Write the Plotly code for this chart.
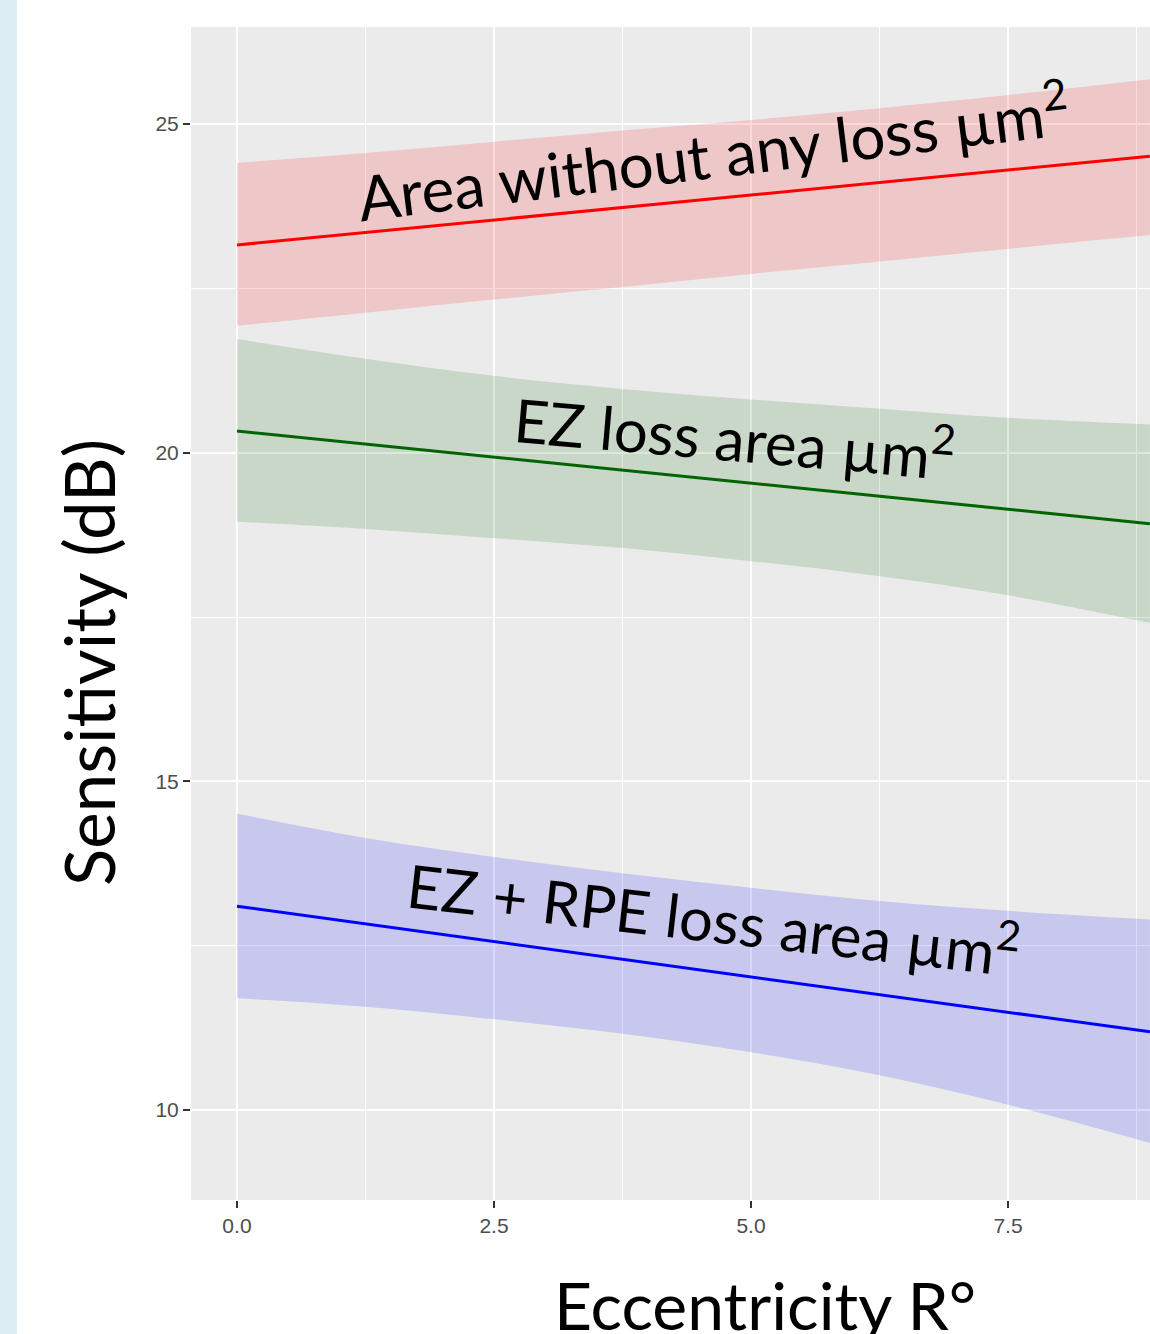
import plotly.graph_objects as go

# ---- data ----
eccentricity = [0.0, 1.25, 2.5, 3.75, 5.0, 6.25, 7.5, 8.88]

no_loss_fit   = [23.16, 23.35, 23.54, 23.73, 23.92, 24.11, 24.30, 24.51]
no_loss_upper = [24.41, 24.56, 24.73, 24.90, 25.06, 25.24, 25.44, 25.68]
no_loss_lower = [21.93, 22.13, 22.33, 22.52, 22.72, 22.91, 23.10, 23.31]

ez_fit   = [20.33, 20.13, 19.93, 19.73, 19.54, 19.34, 19.14, 18.92]
ez_upper = [21.73, 21.43, 21.17, 20.97, 20.81, 20.67, 20.53, 20.43]
ez_lower = [18.95, 18.84, 18.70, 18.55, 18.35, 18.12, 17.83, 17.41]

rpe_fit   = [13.10, 12.83, 12.56, 12.29, 12.02, 11.76, 11.49, 11.19]
rpe_upper = [14.51, 14.14, 13.85, 13.60, 13.38, 13.18, 13.03, 12.90]
rpe_lower = [11.70, 11.57, 11.38, 11.16, 10.88, 10.53, 10.08, 9.50]

labels = ["Area without any loss µm<sup>2</sup>",
          "EZ loss area µm<sup>2</sup>",
          "EZ + RPE loss area µm<sup>2</sup>"]
label_x = [4.63, 4.84, 4.64]
label_y = [24.60, 20.28, 12.96]
label_angle = [-7, 5, 6.5]

x_ticks = [0.0, 2.5, 5.0, 7.5]
x_tick_text = ["0.0", "2.5", "5.0", "7.5"]
y_ticks = [10, 15, 20, 25]
y_tick_text = ["10", "15", "20", "25"]

groups = [
    (no_loss_fit, no_loss_upper, no_loss_lower, "#FF0000", "rgba(255,0,0,0.15)"),
    (ez_fit, ez_upper, ez_lower, "#006400", "rgba(0,100,0,0.14)"),
    (rpe_fit, rpe_upper, rpe_lower, "#0000FF", "rgba(0,0,255,0.15)"),
]

fig = go.Figure()
for fit, up, lo, col, fillc in groups:
    fig.add_trace(go.Scatter(x=eccentricity, y=lo, mode="lines",
                             line=dict(width=0, color=fillc, shape="spline",
                                       smoothing=1.0),
                             showlegend=False, hoverinfo="skip"))
    fig.add_trace(go.Scatter(x=eccentricity, y=up, mode="lines", fill="tonexty",
                             fillcolor=fillc,
                             line=dict(width=0, color=fillc, shape="spline",
                                       smoothing=1.0),
                             showlegend=False, hoverinfo="skip"))
    fig.add_trace(go.Scatter(x=eccentricity, y=fit, mode="lines",
                             line=dict(width=3, color=col), showlegend=False))

TITLE_FONT = "Lato, 'Open Sans', sans-serif"
for i, (txt, lx, ly, ang) in enumerate(zip(labels, label_x, label_y, label_angle)):
    fig.add_annotation(x=lx, y=ly, xref="x", yref="y", text=txt, showarrow=False,
                       textangle=ang, xanchor="center", yanchor="middle",
                       font=dict(family=TITLE_FONT, size=62 if i == 0 else 60,
                                 color="black"))

# axis titles
fig.add_annotation(x=-0.1074, y=0.4578, xref="paper", yref="paper",
                   text="Sensitivity (dB)", showarrow=False, textangle=-90,
                   xanchor="center", yanchor="middle",
                   font=dict(family=TITLE_FONT, size=69, color="black"))
fig.add_annotation(x=0.5985, y=-0.0895, xref="paper", yref="paper",
                   text="Eccentricity R°", showarrow=False,
                   xanchor="center", yanchor="middle",
                   font=dict(family=TITLE_FONT, size=66, color="black"))

# light blue strip on far left
fig.add_shape(type="rect", xref="paper", yref="paper",
              x0=-0.2, x1=-0.1815, y0=-0.2, y1=1.1,
              fillcolor="#DCEEF4", line=dict(width=0), layer="below")

axis_common = dict(showline=False, zeroline=False, ticks="outside", ticklen=7,
                   tickwidth=2, tickcolor="#333333", gridcolor="white",
                   gridwidth=2,
                   tickfont=dict(family="'Liberation Sans', Arial, sans-serif",
                                 size=21, color="#4D4D4D"))

fig.update_xaxes(range=[-0.447, 8.881], tickvals=x_ticks, ticktext=x_tick_text,
                 minor=dict(dtick=1.25, tick0=0, showgrid=True, gridcolor="white",
                            gridwidth=1, ticks=""),
                 **axis_common)
fig.update_yaxes(range=[8.631, 26.476], tickvals=y_ticks, ticktext=y_tick_text,
                 minor=dict(dtick=2.5, tick0=0, showgrid=True, gridcolor="white",
                            gridwidth=1, ticks=""),
                 **axis_common)

fig.update_layout(width=1150, height=1334,
                  margin=dict(l=191, r=0, t=27, b=134, pad=0),
                  plot_bgcolor="#EBEBEB", paper_bgcolor="white",
                  showlegend=False)

fig.write_html("out.html")
